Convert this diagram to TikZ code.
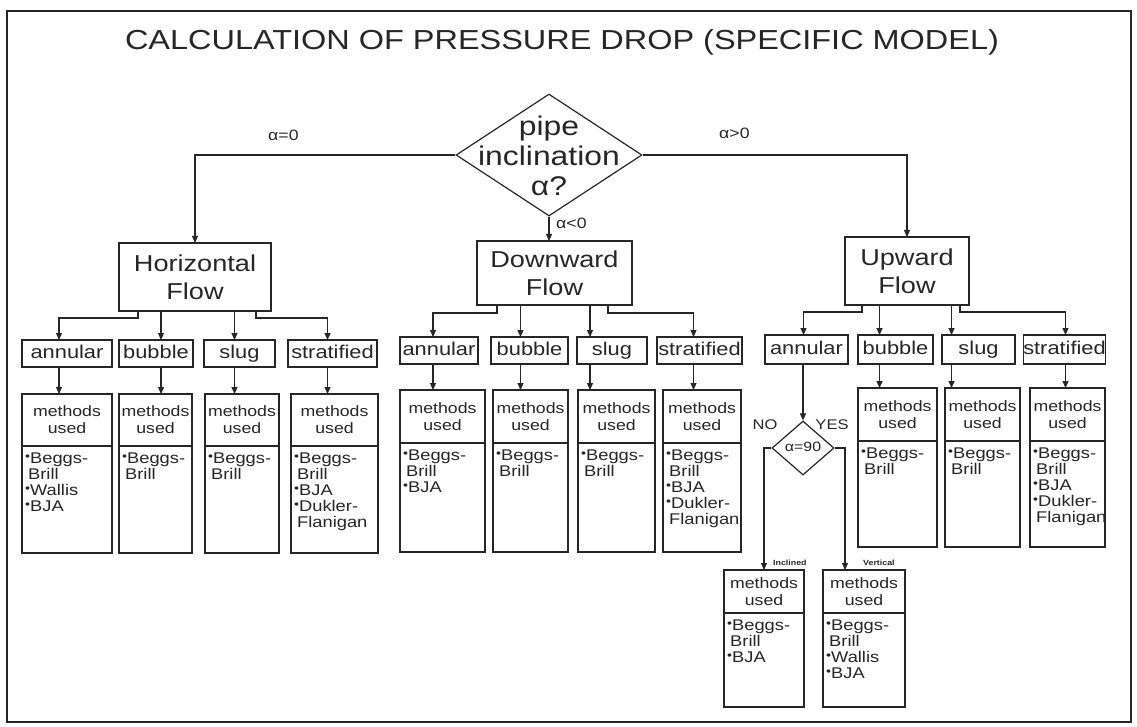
\documentclass[tikz,border=0pt]{standalone}
\usepackage{fontspec}
\setmainfont{Liberation Sans}[FakeStretch=1.18]
\usetikzlibrary{arrows.meta,shapes.geometric,calc}
\definecolor{ink}{HTML}{262626}
\newcommand\fs[2]{\fontsize{#1}{#2}\selectfont}
\newcommand\bu{\raisebox{0.22em}{\fontsize{12}{12}\selectfont\textbullet}}
\newcommand\BB{\bu Beggs-\\\hspace{3pt}Brill}
% box by corners: [style]{name}{x1}{y1}{x2}{y2}{text}
\newcommand\rbox[7][]{\node[box,#1,minimum width={#5-#3},minimum height={#6-#4}] (#2) at ({(#3+#5)/2},{(#4+#6)/2}) {#7};}
% methods box: {name}{x1}{y1}{x2}{y2}{divider y}{list}
\newcommand\mbx[7]{%
  \rbox{#1}{#2}{#3}{#4}{#5}{}
  \draw[line] (#2,#6) -- (#4,#6);
  \node[mhead] at ({(#2+#4)/2},{(#3+#6)/2}) {methods\\used};
  \node[mlist] at (#2+3,#6+7) {#7};
}
\begin{document}
\begin{tikzpicture}[x=1pt,y=-1pt,
  box/.style={draw=ink,line width=1.2pt,inner sep=0pt,outer sep=0pt,rectangle,text=ink},
  line/.style={draw=ink,line width=1.1pt},
  arr/.style={draw=ink,line width=1.1pt,-{Triangle[width=6pt,length=7pt]}},
  flowtxt/.style={font=\fs{23}{28},align=center},
  regtxt/.style={font=\fs{18.5}{20},text height=13.5pt,text depth=4pt},
  mhead/.style={font=\fs{15}{17},align=center,text=ink,inner sep=0pt},
  mlist/.style={font=\fs{15.5}{16},align=left,text=ink,inner sep=0pt,anchor=north west},
  lab/.style={font=\fs{15}{15},text=ink,inner sep=0pt}]
\useasboundingbox (0,0) rectangle (1137,727);
\fill[white] (0,0) rectangle (1137,727);
\draw[ink,line width=2pt] (7,11) rectangle (1131,722);

\node[font=\fs{27.5}{30},text=ink] (title) at (562,42) {CALCULATION OF PRESSURE DROP (SPECIFIC MODEL)};

% main decision
\node[diamond,draw=ink,line width=1.2pt,inner sep=0pt,minimum width=186,minimum height=122] (incl) at (549,155) {};
\node[font=\fs{27}{30},align=center,text=ink,inner sep=0pt] (incltxt) at (549,156) {pipe\\inclination\\α?};

% flow boxes
\rbox[flowtxt]{hflow}{119}{243}{271}{311}{Horizontal\\Flow}
\rbox[flowtxt]{dflow}{477}{241}{632}{305}{Downward\\Flow}
\rbox[flowtxt]{uflow}{845}{237}{969}{305}{Upward\\Flow}

\draw[arr] (incl.west) -| (hflow.north);
\draw[arr] (incl.east) -| (uflow.north);
\draw[arr] (incl.south) -- (incl.south |- dflow.north);
\node[lab,anchor=west] (l0) at (268,135) {α=0};
\node[lab,anchor=west] (lp) at (719,133) {α>0};
\node[lab,anchor=west] (ln) at (556,223) {α<0};

% regime boxes
\rbox[regtxt]{hann}{22}{340}{112}{367}{annular}
\rbox[regtxt]{hbub}{119}{340}{193}{367}{bubble}
\rbox[regtxt]{hslug}{204}{340}{275}{367}{slug}
\rbox[regtxt]{hstr}{288}{340}{377}{367}{stratified}
\rbox[regtxt]{dann}{400}{337}{478}{364}{annular}
\rbox[regtxt]{dbub}{491}{337}{568}{364}{bubble}
\rbox[regtxt]{dslug}{577}{337}{647}{364}{slug}
\rbox[regtxt]{dstr}{657}{337}{742}{364}{stratified}
\rbox[regtxt]{uann}{765}{335}{848}{364}{annular}
\rbox[regtxt]{ubub}{858}{335}{933}{364}{bubble}
\rbox[regtxt]{uslug}{942}{335}{1015}{364}{slug}
\rbox[regtxt]{ustr}{1026}{335}{1103}{364}{stratified}

% tap points (arrow x positions)
\foreach \r/\d in {hann/-8,hbub/5,hslug/-5,hstr/-5,dann/-6,dbub/-9,dslug/-22,dstr/-6,uann/-3,ubub/-16,uslug/-27,ustr/1}{
  \coordinate (\r-t) at ([xshift=\d pt]\r.north);
  \coordinate (\r-b) at ([xshift=\d pt]\r.south);
}

% flow -> regimes
\draw[arr] ($(hflow.south west)+(19,0)$) -- ++(0,7) -| (hann-t);
\draw[arr] (hbub-t |- hflow.south) -- (hbub-t);
\draw[arr] (hslug-t |- hflow.south) -- (hslug-t);
\draw[arr] ($(hflow.south east)+(-15,0)$) -- ++(0,7) -| (hstr-t);

\draw[arr] ($(dflow.south west)+(20,0)$) -- ++(0,8) -| (dann-t);
\draw[arr] (dbub-t |- dflow.south) -- (dbub-t);
\draw[arr] (dslug-t |- dflow.south) -- (dslug-t);
\draw[arr] ($(dflow.south east)+(-24,0)$) -- ++(0,8) -| (dstr-t);

\draw[arr] ($(uflow.south west)+(17,0)$) -- ++(0,7) -| (uann-t);
\draw[arr] (ubub-t |- uflow.south) -- (ubub-t);
\draw[arr] (uslug-t |- uflow.south) -- (uslug-t);
\draw[arr] ($(uflow.south east)+(-9,0)$) -- ++(0,7) -| (ustr-t);

% methods boxes
\mbx{hannm}{22}{394}{112}{553}{446}{\BB\\\bu Wallis\\\bu BJA}
\mbx{hbubm}{119}{394}{192}{553}{446}{\BB}
\mbx{hslugm}{205}{394}{279}{553}{446}{\BB}
\mbx{hstrm}{291}{394}{378}{553}{446}{\BB\\\bu BJA\\\bu Dukler-\\\hspace{3pt}Flanigan}
\mbx{dannm}{400}{390}{485}{552}{443}{\BB\\\bu BJA}
\mbx{dbubm}{493}{390}{568}{552}{443}{\BB}
\mbx{dslugm}{578}{390}{655}{552}{443}{\BB}
\mbx{dstrm}{663}{390}{741}{552}{443}{\BB\\\bu BJA\\\bu Dukler-\\\hspace{3pt}Flanigan}
\mbx{ububm}{858}{388}{937}{547}{441}{\BB}
\mbx{uslugm}{945}{388}{1020}{547}{441}{\BB}
\mbx{ustrm}{1030}{388}{1105}{547}{441}{\BB\\\bu BJA\\\bu Dukler-\\\hspace{3pt}Flanigan}

% regimes -> methods
\foreach \r in {hann,hbub,hslug,hstr,dann,dbub,dslug,dstr,ubub,uslug,ustr}{
  \draw[arr] (\r-b) -- (\r-b |- \r m.north);
}

% upward annular: alpha = 90 decision
\node[diamond,draw=ink,line width=1.2pt,inner sep=0pt,minimum width=62,minimum height=54] (d90) at (803,448) {};
\node[font=\fs{13.5}{14},text=ink,inner sep=0pt] (d90txt) at (803,447) {α=90};
\draw[arr] (uann.south -| d90.north) -- (d90.north);
\node[lab,font=\fs{14}{14}] (no) at (765,425) {NO};
\node[lab,font=\fs{14}{14}] (yes) at (832,425) {YES};

\mbx{incm}{724}{570}{804}{707}{613}{\BB\\\bu BJA}
\mbx{vertm}{823}{570}{905}{707}{613}{\BB\\\bu Wallis\\\bu BJA}
\draw[arr] (d90.west) -| (incm.north);
\draw[arr] (d90.east) -| ([xshift=22pt]vertm.north west);
\node[font=\bfseries\fs{7.5}{8},text=ink,inner sep=0pt,anchor=west] (inclab) at (773,563) {Inclined};
\node[font=\bfseries\fs{7.5}{8},text=ink,inner sep=0pt,anchor=west] (vertlab) at (863,563) {Vertical};
\end{tikzpicture}
\end{document}
